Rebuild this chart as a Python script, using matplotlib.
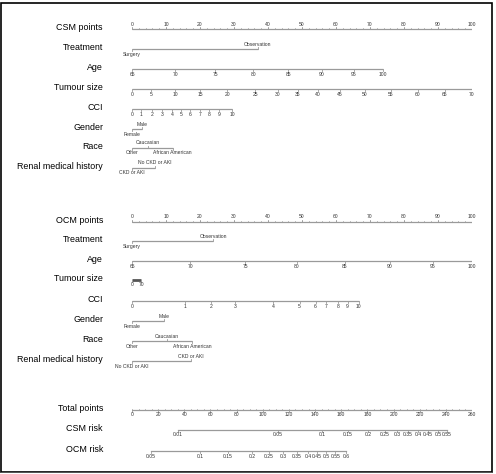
import matplotlib
matplotlib.use('Agg')
import matplotlib.pyplot as plt
from matplotlib.patches import Rectangle
import numpy as np

# ---------------- data ----------------
points_labels = [0, 10, 20, 30, 40, 50, 60, 70, 80, 90, 100]

csm_treatment_labels = ['Surgery', 'Observation']
csm_treatment_pts = [0, 37.0]
csm_age_labels = [65, 70, 75, 80, 85, 90, 95, 100]
csm_age_pts = [0, 12.7, 24.5, 35.7, 46.0, 55.8, 65.2, 73.7]
csm_tumour_labels = [0, 5, 10, 15, 20, 25, 30, 35, 40, 45, 50, 55, 60, 65, 70]
csm_tumour_pts = [0, 5.6, 12.7, 20.1, 28.0, 36.3, 42.8, 48.7, 54.6, 61.1, 68.4, 76.1, 84.1, 92.0, 100]
csm_cci_labels = [0, 1, 2, 3, 4, 5, 6, 7, 8, 9, 10]
csm_cci_pts = [0, 2.7, 5.9, 8.8, 11.8, 14.5, 17.1, 20.1, 22.7, 25.7, 29.5]
csm_gender_labels = ['Female', 'Male']
csm_gender_pts = [0, 2.9]
csm_race_labels = ['Other', 'Caucasian', 'African American']
csm_race_pts = [0, 4.7, 12.0]
csm_renal_labels = ['CKD or AKI', 'No CKD or AKI']
csm_renal_pts = [0, 6.8]

ocm_treatment_labels = ['Surgery', 'Observation']
ocm_treatment_pts = [0, 23.9]
ocm_age_labels = [65, 70, 75, 80, 85, 90, 95, 100]
ocm_age_pts = [0, 17.1, 33.3, 48.4, 62.5, 75.8, 88.5, 100]
ocm_tumour_labels = [0, 70]
ocm_tumour_pts = [0, 2.7]
ocm_cci_labels = [0, 1, 2, 3, 4, 5, 6, 7, 8, 9, 10]
ocm_cci_pts = [0, 15.6, 23.3, 30.4, 41.6, 49.3, 54.0, 57.2, 60.5, 63.4, 66.7]
ocm_gender_labels = ['Female', 'Male']
ocm_gender_pts = [0, 9.4]
ocm_race_labels = ['Other', 'Caucasian', 'African American']
ocm_race_pts = [0, 10.3, 17.7]
ocm_renal_labels = ['No CKD or AKI', 'CKD or AKI']
ocm_renal_pts = [0, 17.4]

total_labels = [0, 20, 40, 60, 80, 100, 120, 140, 160, 180, 200, 220, 240, 260]
total_max = 260
csm_risk_labels = ['0.01', '0.05', '0.1', '0.15', '0.2', '0.25', '0.3', '0.35', '0.4', '0.45', '0.5', '0.55']
csm_risk_total = [35.2, 111.6, 145.3, 165.1, 180.4, 193.4, 202.6, 211.0, 218.6, 226.3, 233.9, 240.8]
ocm_risk_labels = ['0.05', '0.1', '0.15', '0.2', '0.25', '0.3', '0.35', '0.4', '0.45', '0.5', '0.55', '0.6']
ocm_risk_total = [14.5, 52.0, 73.4, 91.7, 104.7, 115.5, 126.1, 134.6, 141.5, 148.2, 155.5, 164.0]

# ---------------- layout ----------------
W, H = 496, 474
plt.rcParams['font.family'] = ['Liberation Sans', 'DejaVu Sans']
fig = plt.figure(figsize=(W / 100, H / 100), dpi=100)
fig.patch.set_facecolor('white')
ax = fig.add_axes([132 / W, 0, 340 / W, 1])
ax.set_xlim(0, 100)
ax.set_ylim(H, 0)
ax.axis('off')

LINE_C = '#9a9a9a'
TXT_C = '#333333'
NAME_FS = 6.4
TICK_FS = 3.6
NAME_X = (103 - 132) / 3.4

def name(y, text):
    ax.text(NAME_X, y - 1.5, text, ha='right', va='center', fontsize=NAME_FS,
            color='black', clip_on=False)

def points_axis(y, text, labels, minor_step=2):
    name(y, text)
    ax.plot([min(labels), max(labels)], [y, y], color=LINE_C, lw=0.9, solid_capstyle='butt')
    minors = np.arange(min(labels), max(labels) + 0.01, minor_step)
    for m in minors:
        ax.plot([m, m], [y, y - 1.0], color=LINE_C, lw=0.5)
    for v in labels:
        ax.plot([v, v], [y, y - 1.8], color=LINE_C, lw=0.6)
        ax.text(v, y - 5, str(v), ha='center', va='center', fontsize=TICK_FS, color=TXT_C)

def cont_axis(y, text, labels, pts, lw=0.9, color=LINE_C):
    name(y, text)
    ax.plot([min(pts), max(pts)], [y, y], color=color, lw=lw, solid_capstyle='butt')
    for lab, p in zip(labels, pts):
        ax.plot([p, p], [y, y + 1.6], color=LINE_C, lw=0.6)
        ax.text(p, y + 5, str(lab), ha='center', va='center', fontsize=TICK_FS, color=TXT_C)

def cat_axis(y, text, labels, pts):
    name(y, text)
    ax.plot([min(pts), max(pts)], [y, y], color=LINE_C, lw=0.9, solid_capstyle='butt')
    order = np.argsort(pts)
    for k, i in enumerate(order):
        p = pts[i]
        if k % 2 == 0:
            ax.plot([p, p], [y, y + 1.6], color=LINE_C, lw=0.6)
            ax.text(p, y + 5, labels[i], ha='center', va='center', fontsize=TICK_FS, color=TXT_C)
        else:
            ax.plot([p, p], [y, y - 1.6], color=LINE_C, lw=0.6)
            ax.text(p, y - 5, labels[i], ha='center', va='center', fontsize=TICK_FS, color=TXT_C)

# CSM block
points_axis(29, 'CSM points', points_labels)
cat_axis(49, 'Treatment', csm_treatment_labels, csm_treatment_pts)
cont_axis(69, 'Age', csm_age_labels, csm_age_pts)
cont_axis(89, 'Tumour size', csm_tumour_labels, csm_tumour_pts)
cont_axis(109, 'CCI', csm_cci_labels, csm_cci_pts)
cat_axis(129, 'Gender', csm_gender_labels, csm_gender_pts)
cat_axis(148, 'Race', csm_race_labels, csm_race_pts)
cat_axis(168, 'Renal medical history', csm_renal_labels, csm_renal_pts)

# OCM block
points_axis(222, 'OCM points', points_labels)
cat_axis(241, 'Treatment', ocm_treatment_labels, ocm_treatment_pts)
cont_axis(261, 'Age', ocm_age_labels, ocm_age_pts)
cont_axis(280, 'Tumour size', ocm_tumour_labels, ocm_tumour_pts, lw=2.0, color='#555555')
cont_axis(301, 'CCI', ocm_cci_labels, ocm_cci_pts)
cat_axis(321, 'Gender', ocm_gender_labels, ocm_gender_pts)
cat_axis(341, 'Race', ocm_race_labels, ocm_race_pts)
cat_axis(361, 'Renal medical history', ocm_renal_labels, ocm_renal_pts)

# Totals
scale = 100 / total_max
yt = 410
name(yt, 'Total points')
ax.plot([0, 100], [yt, yt], color=LINE_C, lw=0.9)
for m in np.arange(0, total_max + 0.01, 5):
    ax.plot([m * scale] * 2, [yt, yt - 1.0], color=LINE_C, lw=0.5)
for v in total_labels:
    ax.plot([v * scale] * 2, [yt, yt + 1.6], color=LINE_C, lw=0.6)
    ax.text(v * scale, yt + 5, str(v), ha='center', va='center', fontsize=TICK_FS, color=TXT_C)

def risk_axis(y, text, labels, totals):
    name(y, text)
    xs = [t * scale for t in totals]
    ax.plot([xs[0], xs[-1]], [y, y], color=LINE_C, lw=0.9)
    for lab, x in zip(labels, xs):
        ax.plot([x, x], [y, y + 1.6], color=LINE_C, lw=0.6)
        ax.text(x, y + 5, lab, ha='center', va='center', fontsize=TICK_FS, color=TXT_C)

risk_axis(430, 'CSM risk', csm_risk_labels, csm_risk_total)
risk_axis(451, 'OCM risk', ocm_risk_labels, ocm_risk_total)

# frame
fig.add_artist(Rectangle((1 / W, 1 - 472 / H), 491 / W, 469 / H, transform=fig.transFigure,
                         fill=False, edgecolor='black', lw=1.2))
fig.add_artist(Rectangle((1 / W, 1 - 473 / H), 491 / W, 1.5 / H, transform=fig.transFigure,
                         facecolor='#555555', edgecolor='none'))

fig.savefig('out.png', dpi=100, facecolor='white')
